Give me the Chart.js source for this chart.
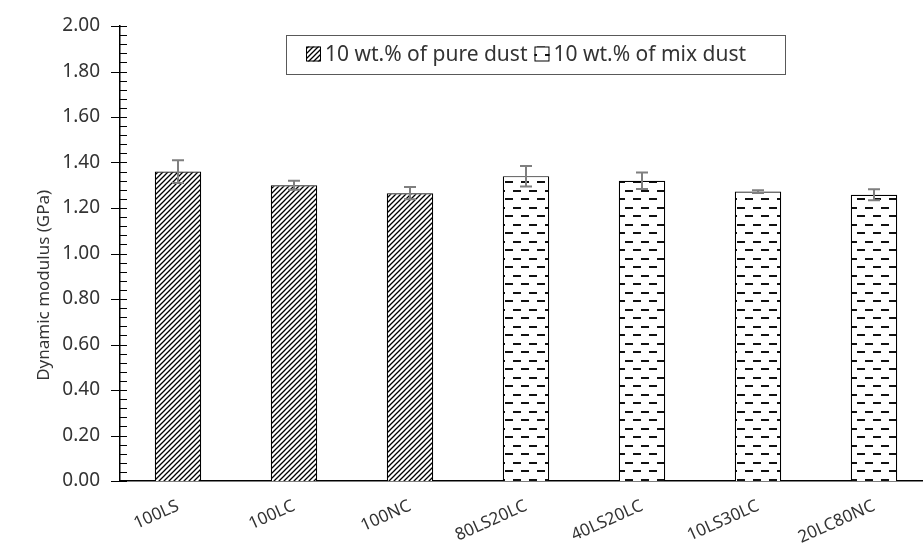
<!DOCTYPE html>
<html lang="en">
<head>
	<meta charset="utf-8">
	<title>Dynamic modulus</title>
	<script src="https://cdn.jsdelivr.net/npm/chart.js"></script>
	<style>
		html, body { margin: 0; padding: 0; background: #fff; overflow: hidden; }
		#wrap { width: 923px; height: 549px; overflow: hidden; }
	</style>
</head>
<body>
	<div id="wrap"><canvas id="modulus" width="932" height="549"></canvas></div>
	<script>
		const categories = ['100LS', '100LC', '100NC', '80LS20LC', '40LS20LC', '10LS30LC', '20LC80NC'];
		const seriesNames = ['10 wt.% of pure dust', '10 wt.% of mix dust'];
		const pureDust = [1.36, 1.30, 1.265, null, null, null, null];
		const pureDustErr = [0.05, 0.02, 0.027, null, null, null, null];
		const mixDust = [null, null, null, 1.34, 1.32, 1.272, 1.258];
		const mixDustErr = [null, null, null, 0.045, 0.036, 0.006, 0.024];
		const yTicks = [0, 0.2, 0.4, 0.6, 0.8, 1.0, 1.2, 1.4, 1.6, 1.8, 2.0];
		const yTitle = 'Dynamic modulus (GPa)';

		const FONT = '"Noto Sans", sans-serif';
		const TEXT = '#333';

		// fill patterns: upward diagonal hatch and staggered dashes
		function hatchPattern() {
			const c = document.createElement('canvas');
			c.width = 5; c.height = 5;
			const g = c.getContext('2d');
			g.fillStyle = '#fff';
			g.fillRect(0, 0, 5, 5);
			g.strokeStyle = '#000';
			g.lineWidth = 1.3;
			g.beginPath();
			g.moveTo(0, 5); g.lineTo(5, 0);
			g.moveTo(-1, 1); g.lineTo(1, -1);
			g.moveTo(4, 6); g.lineTo(6, 4);
			g.stroke();
			return g.createPattern(c, 'repeat');
		}

		function dashPattern() {
			const c = document.createElement('canvas');
			c.width = 16; c.height = 17;
			const g = c.getContext('2d');
			g.fillStyle = '#fff';
			g.fillRect(0, 0, 16, 17);
			g.fillStyle = '#111';
			g.fillRect(1, 3, 8, 2);
			g.fillRect(9, 11, 7, 2);
			g.fillRect(0, 11, 1, 2);
			return g.createPattern(c, 'repeat');
		}

		const fills = [hatchPattern(), dashPattern()];

		const errorBars = {
			id: 'errorBars',
			afterDatasetsDraw(chart) {
				const ctx = chart.ctx;
				const y = chart.scales.y;
				const errs = [pureDustErr, mixDustErr];
				ctx.save();
				ctx.strokeStyle = '#7f7f7f';
				ctx.lineWidth = 2;
				chart.data.datasets.forEach((ds, di) => {
					chart.getDatasetMeta(di).data.forEach((bar, i) => {
						const v = ds.data[i];
						const e = errs[di][i];
						if (v == null || e == null) return;
						const top = y.getPixelForValue(v + e);
						const bot = y.getPixelForValue(v - e);
						ctx.beginPath();
						ctx.moveTo(bar.x, top); ctx.lineTo(bar.x, bot);
						ctx.moveTo(bar.x - 6, top); ctx.lineTo(bar.x + 6, top);
						ctx.moveTo(bar.x - 6, bot); ctx.lineTo(bar.x + 6, bot);
						ctx.stroke();
					});
				});
				ctx.restore();
			}
		};

		// major ticks cross the axis, minor ticks point inward; axis title beside it
		const axisTicks = {
			id: 'axisTicks',
			afterDraw(chart) {
				const ctx = chart.ctx;
				const y = chart.scales.y;
				const x0 = chart.chartArea.left;
				ctx.save();
				ctx.strokeStyle = '#000';
				ctx.lineWidth = 1;
				ctx.beginPath();
				for (let k = 0; k <= 50; k++) {
					const py = Math.round(y.getPixelForValue(k * 0.04)) + 0.5;
					if (k % 5 === 0) {
						ctx.moveTo(x0 - 9, py); ctx.lineTo(x0 + 7, py);
					} else {
						ctx.moveTo(x0, py); ctx.lineTo(x0 + 7, py);
					}
				}
				ctx.stroke();

				ctx.translate(44, y.getPixelForValue(0.86));
				ctx.rotate(-Math.PI / 2);
				ctx.font = '17px ' + FONT;
				ctx.fillStyle = TEXT;
				ctx.textAlign = 'center';
				ctx.textBaseline = 'middle';
				ctx.fillText(yTitle, 0, 0);
				ctx.restore();
			}
		};

		const boxLegend = {
			id: 'boxLegend',
			afterDraw(chart) {
				const ctx = chart.ctx;
				const bx = 286, by = 35, bw = 499, bh = 39;
				ctx.save();
				ctx.fillStyle = '#fff';
				ctx.fillRect(bx, by, bw, bh);
				ctx.strokeStyle = '#595959';
				ctx.lineWidth = 1;
				ctx.strokeRect(bx + 0.5, by + 0.5, bw, bh);
				ctx.font = '21px ' + FONT;
				ctx.textBaseline = 'middle';
				let x = bx + 20;
				const cy = by + bh / 2;
				chart.data.datasets.forEach((ds, di) => {
					ctx.fillStyle = fills[di];
					ctx.fillRect(x, cy - 8, 15, 15);
					ctx.strokeStyle = '#000';
					ctx.strokeRect(x + 0.5, cy - 7.5, 14, 14);
					ctx.fillStyle = TEXT;
					ctx.fillText(ds.label, x + 19, cy + 1);
					x += 19 + ctx.measureText(ds.label).width + 7;
				});
				ctx.restore();
			}
		};

		new Chart(document.getElementById('modulus'), {
			type: 'bar',
			data: {
				labels: categories,
				datasets: [
					{ label: seriesNames[0], data: pureDust, backgroundColor: fills[0] },
					{ label: seriesNames[1], data: mixDust, backgroundColor: fills[1] }
				]
			},
			options: {
				responsive: false,
				animation: false,
				devicePixelRatio: 1,
				layout: { padding: { top: 26, right: 0, left: 0, bottom: 0 } },
				datasets: {
					bar: {
						grouped: false,
						barPercentage: 0.4,
						categoryPercentage: 1,
						borderColor: '#000',
						borderWidth: 1.2
					}
				},
				plugins: {
					legend: { display: false },
					tooltip: { enabled: false }
				},
				scales: {
					x: {
						grid: { display: false, drawTicks: false },
						border: { display: true, color: '#000', width: 1.5 },
						ticks: {
							color: TEXT,
							font: { family: FONT, size: 17 },
							minRotation: 24,
							maxRotation: 24,
							padding: 15
						},
						afterFit(scale) {
							scale.height = 68;
							scale.paddingLeft = 0;
							scale.paddingRight = 0;
						}
					},
					y: {
						min: 0,
						max: 2,
						afterBuildTicks(scale) { scale.ticks = yTicks.map(v => ({ value: v })); },
						grid: { display: false, drawTicks: false },
						border: { display: true, color: '#000', width: 1.5 },
						ticks: {
							color: TEXT,
							font: { family: FONT, size: 19 },
							padding: 20,
							callback: v => Number(v).toFixed(2)
						},
						afterFit(scale) {
							scale.width = 120;
							scale.paddingTop = 0;
							scale.paddingBottom = 0;
						}
					}
				}
			},
			plugins: [errorBars, axisTicks, boxLegend]
		});
	</script>
</body>
</html>
